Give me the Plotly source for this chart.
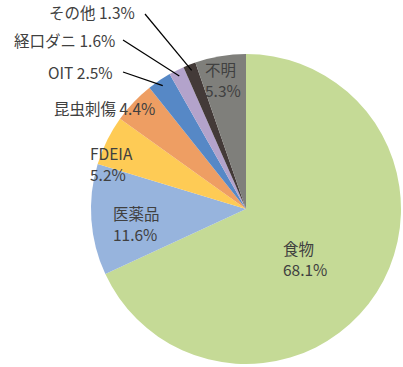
import math
import plotly.graph_objects as go

labels = ["食物", "医薬品", "FDEIA", "昆虫刺傷", "OIT", "経口ダニ", "その他", "不明"]
values = [68.1, 11.6, 5.2, 4.4, 2.5, 1.6, 1.3, 5.3]
colors = ["#C5DA96", "#97B4DD", "#FECB55", "#EE9E63", "#5688C6", "#B3A3CB", "#433A38", "#7F7F7B"]

W, H = 403, 367
CX, CY, R = 246, 209, 155  # pie centre / radius in pixels

def px(x):
    return x / W

def py(y):
    return 1 - y / H

fig = go.Figure(go.Pie(
    labels=labels, values=values, sort=False, direction="clockwise", rotation=0,
    marker=dict(colors=colors, line=dict(width=0)),
    textinfo="none", hoverinfo="label+percent", showlegend=False,
    domain=dict(x=[px(CX - R), px(CX + R)], y=[py(CY + R), py(CY - R)]),
))

# label placement (pixel positions of first text line), per category
label_pos = {
    "食物": (282, 248, "left", 2),
    "医薬品": (112, 213, "left", 2),
    "FDEIA": (89, 153, "left", 2),
    "昆虫刺傷": (156, 108, "right", 1),
    "OIT": (114, 72, "right", 1),
    "経口ダニ": (116, 40, "right", 1),
    "その他": (136, 12, "right", 1),
    "不明": (204, 69, "left", 2),
}
leader_start = {"OIT": (123, 72), "経口ダニ": (123, 40), "その他": (145, 14)}
LINE_GAP = 20.5

total = sum(values)
cum = 0
shapes = []
annotations = []
font = dict(family="Noto Sans CJK JP", size=15.5, color="#404040")
for lab, v in zip(labels, values):
    mid = (cum + v / 2) / total * 2 * math.pi
    cum += v
    pct = f"{v:.1f}%"
    x, y, anchor, lines = label_pos[lab]
    texts = [lab, pct] if lines == 2 else [f"{lab} {pct}"]
    for i, t in enumerate(texts):
        annotations.append(dict(
            x=px(x), y=py(y + i * LINE_GAP), xref="paper", yref="paper", text=t,
            showarrow=False, xanchor=anchor, yanchor="middle", align="left",
            font=font, borderpad=0,
        ))
    if lab in leader_start:
        sx, sy = leader_start[lab]
        ex = CX + 0.96 * R * math.sin(mid)
        ey = CY - 0.96 * R * math.cos(mid)
        shapes.append(dict(type="line", xref="paper", yref="paper",
                           x0=px(sx), y0=py(sy), x1=px(ex), y1=py(ey),
                           line=dict(color="#000000", width=1.2)))

fig.update_layout(
    width=W, height=H, margin=dict(l=0, r=0, t=0, b=0),
    paper_bgcolor="white", plot_bgcolor="white",
    annotations=annotations, shapes=shapes,
)
fig.write_html("out.html")
